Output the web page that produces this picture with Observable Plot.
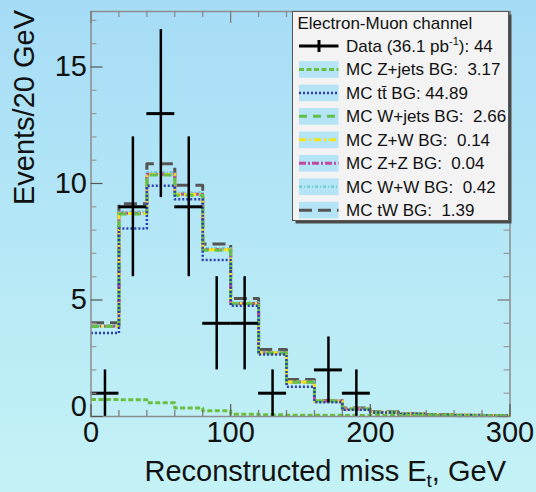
<!DOCTYPE html>
<html><head><meta charset="utf-8">
<script src="https://cdn.jsdelivr.net/npm/d3@7"></script>
<script src="https://cdn.jsdelivr.net/npm/@observablehq/plot@0.6"></script>
<style>
html,body{margin:0;padding:0;width:536px;height:492px;overflow:hidden;background:linear-gradient(#a6dcf6,#c4f3f6);}
#chart svg{display:block;}
</style></head>
<body><div id="chart"></div>
<script>
// ---- data ----
const binEdges = [0,20,40,60,80,100,120,140,160,180,200,220,240,260,280,300];
const dataCounts = [1,9,13,9,4,4,1,0,2,1,0,0,0,0,0];
const dataLabel = "Data (36.1 pb";
const dataTotal = 44;
const seriesNames = ["Z+jets","t\u0074\u0304","W+jets","Z+W","Z+Z","W+W","tW"];
const seriesTotals = [3.17,44.89,2.66,0.14,0.04,0.42,1.39];
const mcZjets = [0.73,0.72,0.59,0.37,0.25,0.10,0.07,0.05,0.05,0.04,0.04,0.04,0.04,0.03,0.03];
const mcTtbar = [2.85,7.35,9.31,8.95,6.47,4.65,2.59,1.23,0.56,0.25,0.13,0.07,0.03,0.02,0.01];
const mcWjets = [0.28,0.62,0.46,0.18,0.42,0.09,0.07,0.19,0.05,0.03,0.01,0,0,0,0];
const mcZW    = [0.01,0.02,0.03,0.03,0.02,0.01,0.01,0.01,0,0,0,0,0,0,0];
const mcZZ    = [0,0.01,0.01,0.01,0.01,0,0,0,0,0,0,0,0,0,0];
const mcWW    = [0.04,0.07,0.08,0.07,0.05,0.04,0.03,0.02,0.01,0.01,0,0,0,0,0];
const mcTW    = [0.11,0.34,0.37,0.32,0.18,0.17,0.11,0.09,0.02,0.04,0.02,0.01,0.01,0,0];
const yTickLabels = [0,5,10,15];
const xTickLabels = [0,100,200,300];
const xTitle = ["Reconstructed miss E", "t", ", GeV"];
const yTitle = "Events/20 GeV";
const legendHeader = "Electron-Muon channel";

// ---- styles ----
const components = [mcZjets, mcTtbar, mcWjets, mcZW, mcZZ, mcWW, mcTW];
const lineStyles = [
  {stroke:"#6abf40", width:3,   dash:"5,2.5"},
  {stroke:"#2b3fb0", width:2.5, dash:"2,2"},
  {stroke:"#63c04a", width:3,   dash:"8,6"},
  {stroke:"#f2e51a", width:3,   dash:"7,3,2,3"},
  {stroke:"#c04aa0", width:3,   dash:"7,2,2,2"},
  {stroke:"#6bcfd6", width:2.5, dash:"3,2,1,2"},
  {stroke:"#555555", width:3,   dash:"13,6"}
];
const FONT = "'Liberation Sans', Arial, Helvetica, sans-serif";

// stacked cumulative step series
let running = binEdges.slice(0,-1).map(() => 0);
const stacks = components.map(comp => {
  running = running.map((r,i) => r + comp[i]);
  const pts = running.map((v,i) => ({x: binEdges[i], y: v}));
  pts.push({x: binEdges[binEdges.length-1], y: running[running.length-1]});
  return pts;
});

const dataRows = dataCounts.map((v,i) => ({lo: binEdges[i], hi: binEdges[i+1], c: (binEdges[i]+binEdges[i+1])/2, v}))
  .filter(d => d.v > 0);

const W = 536, H = 492, mL = 90.5, mR = 26.5, mT = 11, mB = 76;
const pw = W - mL - mR, ph = H - mT - mB;
const yMax = ph / 23.3;

const yMinor = d3.range(0, 18).filter(v => v % 5 !== 0);
const xMinor = d3.range(0, 301, 20).filter(v => v % 100 !== 0);

const marks = [];
// histograms, drawn top of stack first
for (let s = stacks.length - 1; s >= 0; s--) {
  const st = lineStyles[s];
  marks.push(Plot.line(stacks[s], {x:"x", y:"y", curve:"step-after", stroke: st.stroke,
    strokeWidth: st.width, strokeDasharray: st.dash, strokeLinecap:"butt"}));
}
// data points
marks.push(Plot.ruleY(dataRows, {y:"v", x1:"lo", x2:"hi", stroke:"black", strokeWidth:3}));
marks.push(Plot.ruleX(dataRows, {x:"c", y1: d => d.v - Math.sqrt(d.v), y2: d => d.v + Math.sqrt(d.v), stroke:"black", strokeWidth:2.5}));
// frame + ticks (inward, both sides)
marks.push(Plot.frame({stroke:"#8c8c8c", strokeWidth:1.5}));
marks.push(Plot.ruleY(yTickLabels, {y: d=>d, insetRight: pw-12, stroke:"#555", strokeWidth:1.2}));
marks.push(Plot.ruleY(yMinor, {y: d=>d, insetRight: pw-6, stroke:"#999", strokeWidth:1.2}));
marks.push(Plot.ruleY(yTickLabels, {y: d=>d, insetLeft: pw-12, stroke:"#777", strokeWidth:1.2}));
marks.push(Plot.ruleY(yMinor, {y: d=>d, insetLeft: pw-6, stroke:"#999", strokeWidth:1.2}));
marks.push(Plot.ruleX(xTickLabels, {x: d=>d, insetTop: ph-12, stroke:"#555", strokeWidth:1.2}));
marks.push(Plot.ruleX(xMinor, {x: d=>d, insetTop: ph-6, stroke:"#777", strokeWidth:1.2}));
marks.push(Plot.ruleX(xTickLabels, {x: d=>d, insetBottom: ph-12, stroke:"#777", strokeWidth:1.2}));
marks.push(Plot.ruleX(xMinor, {x: d=>d, insetBottom: ph-6, stroke:"#888", strokeWidth:1.2}));
// axes labels
marks.push(Plot.axisY({ticks: yTickLabels.filter(v=>v>0), tickSize:0, tickPadding:4, label:null, fontSize:29, fill:"#111"}));
marks.push(Plot.axisY({ticks: [0], tickSize:0, tickPadding:4, label:null, fontSize:29, dy:-10, fill:"#111"}));
marks.push(Plot.axisX({ticks: xTickLabels, tickSize:0, tickPadding:5, label:null, fontSize:29, fill:"#111"}));

const svg = Plot.plot({
  width: W, height: H,
  marginLeft: mL, marginRight: mR, marginTop: mT, marginBottom: mB,
  x: {domain:[0,300]},
  y: {domain:[0,yMax]},
  style: {background:"transparent", fontFamily: FONT, overflow:"visible"},
  marks
});
document.getElementById("chart").appendChild(svg);

// ---- titles & legend (text kept as real SVG text) ----
const g = d3.select(svg).append("g").attr("font-family", FONT).attr("fill", "#111");
g.append("text").attr("transform","translate(33.5,10) rotate(-90)").attr("text-anchor","end")
  .attr("font-size",29).text(yTitle);
const xt = g.append("text").attr("x", 506).attr("y", 481).attr("text-anchor","end").attr("font-size",29);
xt.append("tspan").text(xTitle[0]);
xt.append("tspan").attr("font-size",19).attr("dy",6).text(xTitle[1]);
xt.append("tspan").attr("dy",-6).text(xTitle[2]);

const lg = d3.select(svg).append("g").attr("font-family", FONT).attr("text-anchor","start");
const bx = 292.5, by = 11.5, bw = 216, bh = 209;
lg.append("rect").attr("x",bx+3).attr("y",by+3).attr("width",bw).attr("height",bh).attr("fill","#4a4a4a");
lg.append("rect").attr("x",bx).attr("y",by).attr("width",bw).attr("height",bh).attr("fill","#f3f3f3").attr("stroke","#555").attr("stroke-width",1);
lg.append("text").attr("x",297.5).attr("y",29).attr("font-size",17).attr("fill","#111").attr("text-anchor","start").text(legendHeader);
const rowY = i => 46 + i*23.45;
// data entry
lg.append("line").attr("x1",299).attr("x2",338.5).attr("y1",rowY(0)).attr("y2",rowY(0)).attr("stroke","#000").attr("stroke-width",3);
lg.append("line").attr("x1",319).attr("x2",319).attr("y1",rowY(0)-6).attr("y2",rowY(0)+6).attr("stroke","#000").attr("stroke-width",3);
const dt = lg.append("text").attr("x",346).attr("y",rowY(0)+6).attr("font-size",17).attr("fill","#111").attr("text-anchor","start");
dt.append("tspan").text(dataLabel);
dt.append("tspan").attr("font-size",11).attr("dy",-7).text("-1");
dt.append("tspan").attr("dy",7).text("): " + dataTotal);
seriesNames.forEach((name, i) => {
  const cy = rowY(i+1);
  const st = lineStyles[i];
  lg.append("rect").attr("x",299).attr("y",cy-8.3).attr("width",39.5).attr("height",16.6).attr("fill","#b4e4f6");
  lg.append("line").attr("x1",299).attr("x2",338.5).attr("y1",cy).attr("y2",cy)
    .attr("stroke",st.stroke).attr("stroke-width",st.width).attr("stroke-dasharray",st.dash);
  lg.append("text").attr("x",346).attr("y",cy+6).attr("font-size",17).attr("fill","#111")
    .attr("text-anchor","start").style("white-space","pre")
    .text(`MC ${name} BG: ${seriesTotals[i].toFixed(2).padStart(5," ")}`);
});
</script>
</body></html>
